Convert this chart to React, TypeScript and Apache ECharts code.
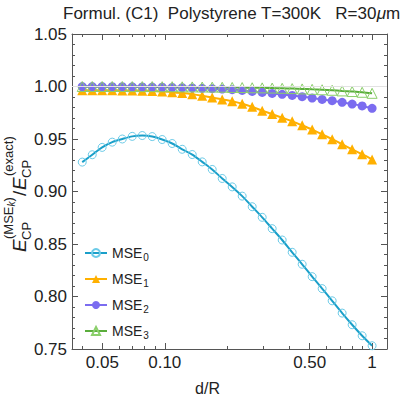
import React, { useEffect, useRef } from "react";
import * as echarts from "echarts";

// d/R sample positions (log-spaced)
const dOverR = [
  0.04, 0.0447, 0.0499, 0.0558, 0.0624, 0.0697, 0.0779, 0.087, 0.0972, 0.1086,
  0.1214, 0.1357, 0.1516, 0.1694, 0.1893, 0.2115, 0.2363, 0.2641, 0.2951, 0.3297,
  0.3684, 0.4117, 0.46, 0.514, 0.5743, 0.6418, 0.7171, 0.8013, 0.8954, 1.0,
];
const mse0 = [
  0.928, 0.935, 0.942, 0.947, 0.950, 0.9525, 0.9533, 0.9523, 0.9495, 0.9457,
  0.9402, 0.9352, 0.9282, 0.921, 0.9124, 0.9044, 0.8956, 0.8855, 0.8754, 0.8646,
  0.8538, 0.8421, 0.8307, 0.8189, 0.8075, 0.7959, 0.7842, 0.7731, 0.7626, 0.7531,
];
const mse1 = [
  0.9965, 0.9965, 0.9964, 0.9964, 0.9963, 0.9962, 0.996, 0.9957, 0.9952, 0.9946,
  0.9937, 0.9926, 0.9912, 0.9896, 0.9877, 0.986, 0.9836, 0.9806, 0.977, 0.9737,
  0.9702, 0.9668, 0.963, 0.959, 0.9545, 0.9498, 0.945, 0.9402, 0.9355, 0.9305,
];
const mse2 = [
  0.9999, 0.9999, 0.9999, 0.9998, 0.9998, 0.9997, 0.9996, 0.9995, 0.9993, 0.9991,
  0.9989, 0.9986, 0.9983, 0.9979, 0.9975, 0.997, 0.9963, 0.9953, 0.9944, 0.9934,
  0.9925, 0.9915, 0.9903, 0.989, 0.9877, 0.9865, 0.9849, 0.9833, 0.9815, 0.9792,
];
const mse3 = [
  1.0, 1.0, 1.0, 1.0, 1.0, 0.9999, 0.9999, 0.9999, 0.9998, 0.9998,
  0.9997, 0.9996, 0.9995, 0.9994, 0.9993, 0.9991, 0.999, 0.9988, 0.9987, 0.9985,
  0.9983, 0.998, 0.9977, 0.9973, 0.9969, 0.9964, 0.9958, 0.9952, 0.9945, 0.9935,
];

const seriesNames = ["MSE0", "MSE1", "MSE2", "MSE3"];
const xMajorTicks = [0.05, 0.1, 0.5, 1];
const xTickLabels = ["0.05", "0.10", "0.50", "1"];
const xMinorTicks = [0.04, 0.06, 0.07, 0.08, 0.09, 0.2, 0.3, 0.4, 0.6, 0.7, 0.8, 0.9];
const xMin = 0.0357;
const xMax = 1.18;
const yMin = 0.75;
const yMax = 1.05;
const yStep = 0.05;

const FONT = "Liberation Sans, Arial, sans-serif";
const AXIS = "#555555";
const TXT = "#222222";

export default function App() {
  const ref = useRef<HTMLDivElement>(null);

  useEffect(() => {
    if (!ref.current) return;
    const chart = echarts.init(ref.current, undefined, { renderer: "svg" });

    const pairs = (ys: number[]) => dOverR.map((x, i) => [x, ys[i]]);

    const grid = { left: 72, right: 28, top: 34, bottom: 51 };

    const xBase = (position: "bottom" | "top", major: boolean) => ({
      type: "log",
      logBase: 10,
      min: xMin,
      max: xMax,
      position,
      axisLine: { show: major, lineStyle: { color: AXIS, width: 1 } },
      axisTick: {
        show: true,
        inside: true,
        length: major ? 6 : 3,
        customValues: major ? xMajorTicks : xMinorTicks,
        lineStyle: { color: AXIS },
      },
      axisLabel: {
        show: major && position === "bottom",
        customValues: xMajorTicks,
        formatter: (v: number) => {
          const idx = xMajorTicks.findIndex((t) => Math.abs(t - v) < 1e-9);
          return idx >= 0 ? xTickLabels[idx] : "";
        },
        fontSize: 17,
        fontFamily: FONT,
        color: TXT,
        margin: 5,
      },
      splitLine: { show: false },
      minorTick: { show: false },
      minorSplitLine: { show: false },
    });

    const yBase = (position: "left" | "right") => ({
      type: "value",
      min: yMin,
      max: yMax,
      interval: yStep,
      position,
      axisLine: { show: true, lineStyle: { color: AXIS, width: 1 } },
      axisTick: { show: true, inside: true, length: 6, lineStyle: { color: AXIS } },
      minorTick: { show: true, splitNumber: 5, length: 3, lineStyle: { color: AXIS } },
      axisLabel: {
        show: position === "left",
        formatter: (v: number) => v.toFixed(2),
        fontSize: 17,
        fontFamily: FONT,
        color: TXT,
        margin: 5,
      },
      splitLine: { show: false },
    });

    const lineColors = ["#1a9fc9", "#ffb000", "#7b6cf0", "#5aad3c"];
    const markColors = ["#6ccbe8", "#ffb000", "#7b6cf0", "#8bcf6b"];
    const symbols = ["circle", "triangle", "circle", "triangle"];
    const hollow = [true, false, false, true];
    const sizes = [8, 10, 9, 10];
    const dataSets = [mse0, mse1, mse2, mse3];

    const series: any[] = [
      {
        type: "line",
        data: [],
        silent: true,
        markLine: {
          silent: true,
          symbol: ["none", "none"],
          label: { show: false },
          lineStyle: { color: "#e2e2e2", width: 1, type: "solid" },
          data: [{ yAxis: 1 }],
        },
      },
    ];
    dataSets.forEach((ys, k) => {
      series.push({
        name: seriesNames[k],
        type: "line",
        data: pairs(ys),
        smooth: 0.3,
        symbol: symbols[k],
        symbolSize: sizes[k],
        showAllSymbol: true,
        lineStyle: { color: lineColors[k], width: 2 },
        itemStyle: hollow[k]
          ? { color: "rgba(255,255,255,0)", borderColor: markColors[k], borderWidth: 1 }
          : { color: markColors[k], borderWidth: 0 },
        emphasis: { disabled: true },
      });
    });

    const sub = 13;
    const main = 19;
    const yTitle = {
      type: "group",
      x: 0,
      y: 252,
      rotation: Math.PI / 2,
      children: [
        { type: "text", x: 0, y: 19, style: { text: "E", font: `italic ${main}px ${FONT}`, fill: TXT, align: "left", verticalAlign: "middle" } },
        { type: "text", x: 12, y: 26, style: { text: "CP", font: `${sub}px ${FONT}`, fill: TXT, align: "left", verticalAlign: "middle" } },
        { type: "text", x: 13, y: 8, style: { text: "(MSE", font: `${sub}px ${FONT}`, fill: TXT, align: "left", verticalAlign: "middle" } },
        { type: "text", x: 45.5, y: 11, style: { text: "k", font: `italic 10px ${FONT}`, fill: TXT, align: "left", verticalAlign: "middle" } },
        { type: "text", x: 50.5, y: 8, style: { text: ")", font: `${sub}px ${FONT}`, fill: TXT, align: "left", verticalAlign: "middle" } },
        { type: "text", x: 56, y: 19, style: { text: "/", font: `${main}px ${FONT}`, fill: TXT, align: "left", verticalAlign: "middle" } },
        { type: "text", x: 62, y: 19, style: { text: "E", font: `italic ${main}px ${FONT}`, fill: TXT, align: "left", verticalAlign: "middle" } },
        { type: "text", x: 74, y: 26, style: { text: "CP", font: `${sub}px ${FONT}`, fill: TXT, align: "left", verticalAlign: "middle" } },
        { type: "text", x: 76, y: 8, style: { text: "(exact)", font: `${sub}px ${FONT}`, fill: TXT, align: "left", verticalAlign: "middle" } },
      ],
    };

    chart.setOption({
      animation: false,
      backgroundColor: "#ffffff",
      title: {
        text: "Formul. (C1)  Polystyrene T=300K   R=30{mu|μ}m",
        left: 58,
        top: 0,
        textStyle: {
          fontSize: 17,
          fontWeight: "normal",
          fontFamily: FONT,
          color: TXT,
          rich: { mu: { fontStyle: "italic", fontSize: 17, fontFamily: FONT, color: TXT } },
        },
      },
      grid: { ...grid, containLabel: false },
      xAxis: [
        { ...xBase("bottom", true) },
        { ...xBase("bottom", false) },
        { ...xBase("top", true) },
        { ...xBase("top", false) },
      ],
      yAxis: [yBase("left"), yBase("right")],
      legend: {
        orient: "vertical",
        left: 79,
        top: 241,
        itemWidth: 22,
        itemHeight: 10,
        itemGap: 10,
        data: seriesNames,
        selectedMode: false,
        formatter: (name: string) => `MSE{sub|${name.slice(3)}}`,
        textStyle: {
          fontSize: 14,
          fontFamily: FONT,
          color: TXT,
          rich: { sub: { fontSize: 10, fontFamily: FONT, color: TXT, padding: [8, 0, 0, 1] } },
        },
      },
      graphic: [
        yTitle,
        {
          type: "text",
          left: "center",
          top: 380,
          style: { text: "d/R", font: `16px ${FONT}`, fill: TXT },
        },
      ],
      series,
    });

    return () => chart.dispose();
  }, []);

  return (
    <div
      ref={ref}
      style={{ position: "absolute", left: 0, top: 0, width: 415, height: 400 }}
    />
  );
}
